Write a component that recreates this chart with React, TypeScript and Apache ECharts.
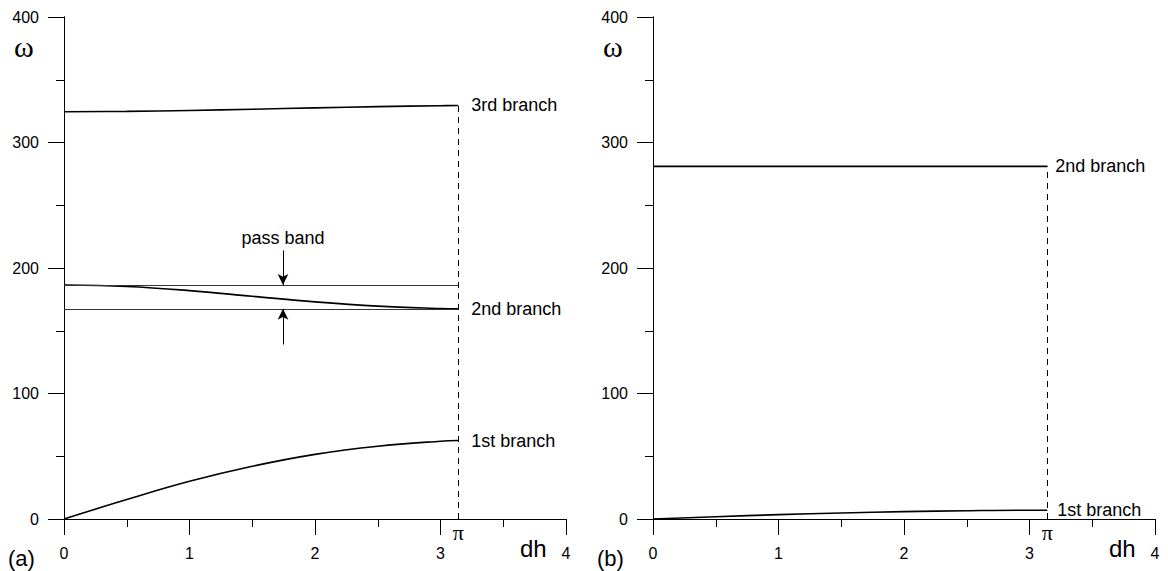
import React, { useEffect, useRef } from "react";
import * as echarts from "echarts";

const dh = [0, 0.5, 1, 1.5, 2, 2.5, 3, Math.PI];
const a1 = [0, 15.5, 30, 42, 51.5, 58, 62, 62.5];
const a2 = [186.5, 185.3, 182, 177.5, 173, 169.6, 167.7, 167.5];
const a3 = [324.5, 324.8, 325.5, 326.5, 327.6, 328.6, 329.3, 329.5];
const b1 = [0, 1.8, 3.5, 4.8, 5.9, 6.6, 7, 7];
const b2 = [281, 281, 281, 281, 281, 281, 281, 281];
const passBand = [186.5, 167.5];
const arrowX = 1.745;
const arrowStarts = [214, 139];

const FONT = "'Liberation Sans', Arial, sans-serif";
const SERIF = "'Liberation Serif', 'Times New Roman', serif";

const pts = (ys: number[]) => dh.map((x, i) => [x, ys[i]]);

function axisX(gridIndex: number, minor = false) {
  return {
    type: "value",
    gridIndex,
    position: "bottom",
    min: 0,
    max: 4,
    interval: minor ? 0.5 : 1,
    axisLine: { show: true, onZero: false, lineStyle: { color: "#000", width: 1 } },
    axisTick: { show: true, inside: false, length: minor ? 8 : 16, lineStyle: { color: "#000" } },
    splitLine: { show: false },
    axisLabel: { show: !minor, color: "#000", fontSize: 16, fontFamily: FONT, margin: 26 },
  };
}
function axisY(gridIndex: number, minor = false) {
  return {
    type: "value",
    gridIndex,
    position: "left",
    offset: 0,
    min: 0,
    max: 400,
    interval: minor ? 50 : 100,
    axisLine: { show: true, onZero: false, lineStyle: { color: "#000", width: 1 } },
    axisTick: { show: true, inside: false, length: minor ? 8 : 16, lineStyle: { color: "#000" } },
    splitLine: { show: false },
    axisLabel: { show: !minor, color: "#000", fontSize: 16, fontFamily: FONT, margin: 25 },
  };
}

function branch(name: string, ys: number[], idx: number, dist: number, extra: any = {}) {
  return {
    type: "line",
    name,
    xAxisIndex: idx,
    yAxisIndex: idx,
    data: pts(ys),
    smooth: 0.4,
    showSymbol: false,
    symbol: "none",
    silent: true,
    lineStyle: { color: "#000", width: 1.6 },
    endLabel: {
      show: true,
      formatter: name,
      distance: dist,
      color: "#000",
      fontSize: 18,
      fontFamily: FONT,
    },
    ...extra,
  };
}

function piLine(top: number) {
  return {
    silent: true,
    symbol: "none",
    lineStyle: { color: "#000", type: [6, 5], width: 1 },
    label: { show: true, position: "start", formatter: "π", color: "#000", fontSize: 22, fontFamily: SERIF, distance: 2 },
    data: [[{ coord: [Math.PI, 0] }, { coord: [Math.PI, top] }]],
  };
}

export default function App() {
  const ref = useRef<HTMLDivElement>(null);
  useEffect(() => {
    if (!ref.current) return;
    const chart = echarts.init(ref.current, null, { renderer: "svg" });
    chart.setOption({
      animation: false,
      backgroundColor: "#fff",
      grid: [
        { left: 64, top: 17, width: 502, height: 502 },
        { left: 653, top: 17, width: 502, height: 502 },
      ],
      xAxis: [axisX(0), axisX(1), axisX(0, true), axisX(1, true)],
      yAxis: [axisY(0), axisY(1), axisY(0, true), axisY(1, true)],
      graphic: [
        { type: "text", left: 14, top: 31, style: { text: "ω", font: `30px ${SERIF}`, fill: "#000" } },
        { type: "text", left: 603, top: 31, style: { text: "ω", font: `30px ${SERIF}`, fill: "#000" } },
        { type: "text", left: 520, top: 536, style: { text: "dh", font: `24px ${FONT}`, fill: "#000" } },
        { type: "text", left: 1109, top: 536, style: { text: "dh", font: `24px ${FONT}`, fill: "#000" } },
        { type: "text", left: 8, top: 547, style: { text: "(a)", font: `22px ${FONT}`, fill: "#000" } },
        { type: "text", left: 597, top: 547, style: { text: "(b)", font: `22px ${FONT}`, fill: "#000" } },
      ],
      series: [
        branch("3rd branch", a3, 0, 13, { markLine: piLine(a3[a3.length - 1]) }),
        branch("2nd branch", a2, 0, 13, {
          markLine: {
            silent: true,
            symbol: "none",
            label: { show: false },
            lineStyle: { color: "#333", type: "solid", width: 1 },
            data: passBand.map((v) => [{ coord: [0, v] }, { coord: [Math.PI, v] }]),
          },
        }),
        branch("1st branch", a1, 0, 13, {
          markLine: {
            silent: true,
            symbol: ["none", "arrow"],
            symbolSize: [8, 11],
            lineStyle: { color: "#000", type: "solid", width: 1 },
            label: { show: false },
            data: arrowStarts.map((s, i) => [
              {
                coord: [arrowX, s],
                label: i === 0
                  ? { show: true, position: "start", formatter: "pass band", color: "#000", fontSize: 18, fontFamily: FONT, distance: 3 }
                  : { show: false },
              },
              { coord: [arrowX, passBand[i]] },
            ]),
          },
        }),
        branch("2nd branch", b2, 1, 8, { markLine: piLine(b2[b2.length - 1]) }),
        branch("1st branch", b1, 1, 10),
      ],
    });
    return () => chart.dispose();
  }, []);
  return (
    <div
      ref={ref}
      style={{ position: "absolute", left: 0, top: 0, width: 1168, height: 571, background: "#fff" }}
    />
  );
}
